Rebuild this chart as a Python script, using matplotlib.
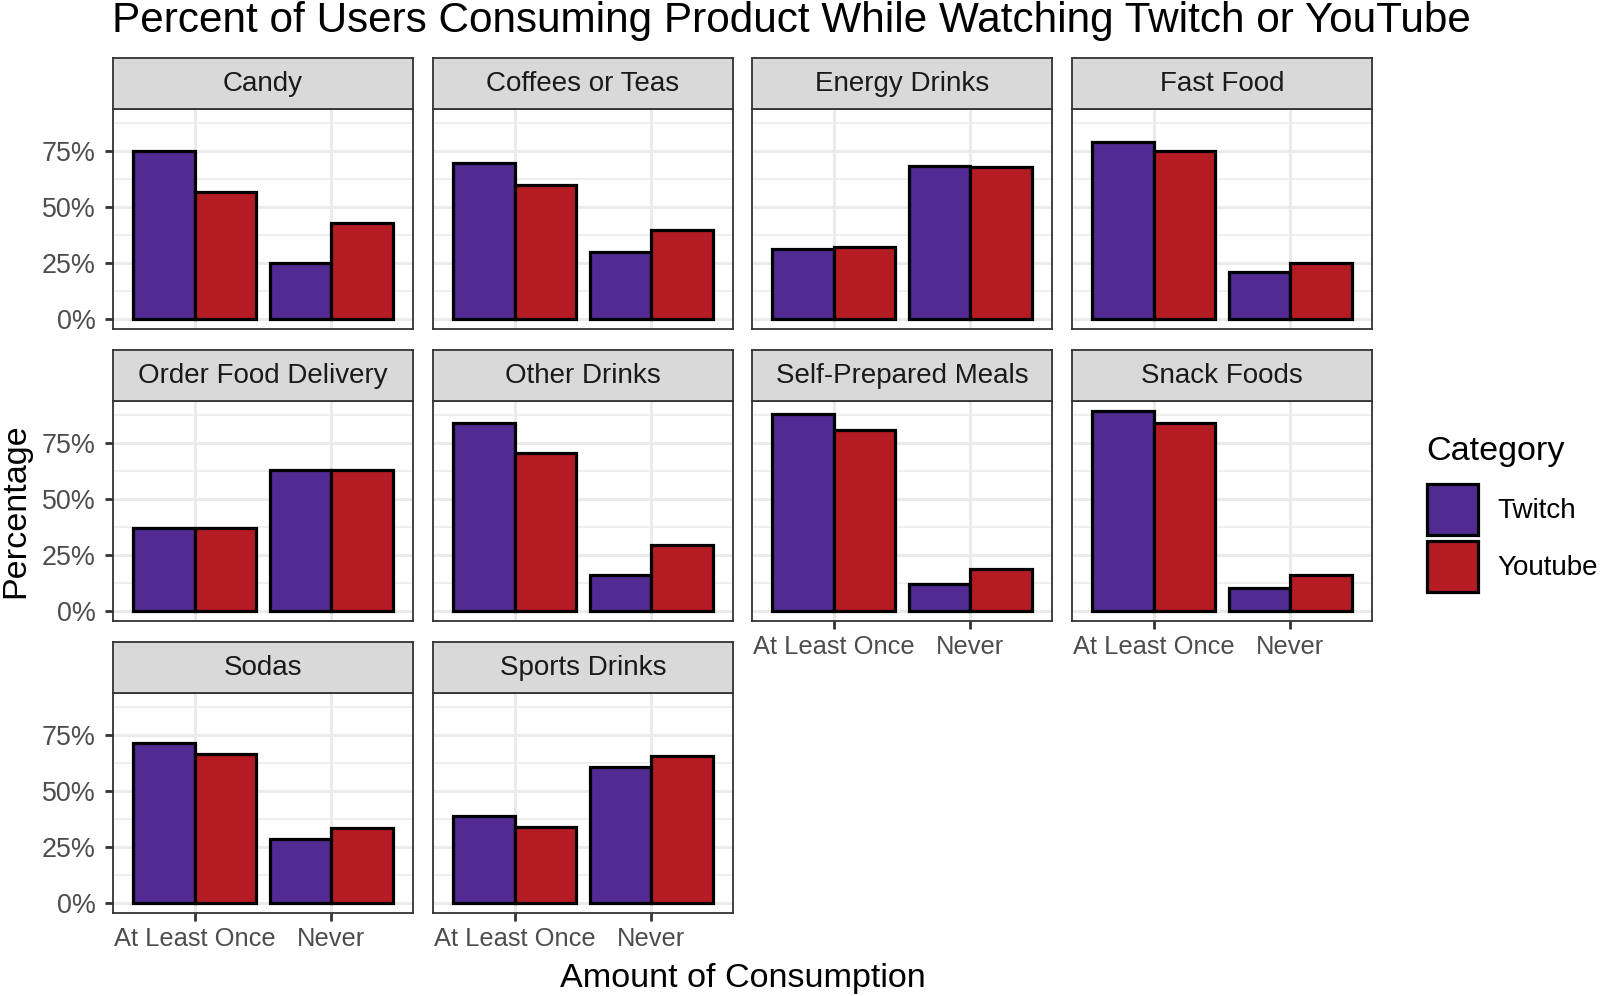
import matplotlib
matplotlib.use('Agg')
import matplotlib.pyplot as plt
from matplotlib.patches import Patch

plt.rcParams['font.family'] = ['Liberation Sans', 'DejaVu Sans']

# data (percent)
products = ['Candy', 'Coffees or Teas', 'Energy Drinks', 'Fast Food',
            'Order Food Delivery', 'Other Drinks', 'Self-Prepared Meals', 'Snack Foods',
            'Sodas', 'Sports Drinks']
amounts = ['At Least Once', 'Never']
categories = ['Twitch', 'Youtube']
twitch_once = [75, 70, 31.5, 79, 37, 84, 88, 89.5, 71.5, 39]
twitch_never = [25, 30, 68.5, 21, 63, 16, 12, 10.5, 28.5, 61]
youtube_once = [57, 60, 32, 75, 37, 70.5, 81, 84, 66.5, 34]
youtube_never = [43, 40, 68, 25, 63, 29.5, 19, 16, 33.5, 66]

colors = {'Twitch': '#512B92', 'Youtube': '#B51B23'}
W, H = 1600, 996

fig = plt.figure(figsize=(W / 100, H / 100), dpi=100)

col_left = [113, 433, 752, 1072]
row_top = [109, 401, 693]
pw, ph, sh = 300, 220, 51

ymax = max(twitch_once + twitch_never + youtube_once + youtube_never)
ylo, yhi = -0.05 * ymax, ymax * 1.05

def px_axes(x, y, w, h):
    return fig.add_axes([x / W, 1 - (y + h) / H, w / W, h / H])

for i, name in enumerate(products):
    r, c = divmod(i, 4)
    x0, y0 = col_left[c], row_top[r]
    ax = px_axes(x0, y0, pw, ph)
    vals = {'Twitch': [twitch_once[i], twitch_never[i]],
            'Youtube': [youtube_once[i], youtube_never[i]]}
    for k, cat in enumerate(categories):
        xs = [j + 1 + (k - 0.5) * 0.45 for j in range(len(amounts))]
        ax.bar(xs, vals[cat], width=0.45, color=colors[cat],
               edgecolor='black', linewidth=2.3, zorder=3)
    ax.set_xlim(0.4, 2.6)
    ax.set_ylim(ylo, yhi)
    ax.set_xticks([1, 2])
    ax.set_yticks([0, 25, 50, 75])
    ax.set_yticks([12.5, 37.5, 62.5, 87.5], minor=True)
    ax.grid(which='major', color='#EBEBEB', linewidth=2.2, zorder=0)
    ax.grid(which='minor', axis='y', color='#EBEBEB', linewidth=1.1, zorder=0)
    ax.set_axisbelow(True)
    ax.tick_params(which='minor', length=0)
    ax.tick_params(which='major', length=6, width=2, color='#333333',
                   labelcolor='#4D4D4D')
    ax.tick_params(axis='x', pad=4, labelsize=18.4)
    ax.tick_params(axis='y', pad=6.5, labelsize=19.4)
    for s in ax.spines.values():
        s.set_color('#333333')
        s.set_linewidth(1.3)
    # x labels only at the bottom panel of each column
    bottom = (r == 2) or (r == 1 and c >= 2)
    if bottom:
        ax.set_xticklabels(amounts)
    else:
        ax.set_xticklabels([])
        ax.tick_params(axis='x', length=0)
    if c == 0:
        ax.set_yticklabels(['0%', '25%', '50%', '75%'])
    else:
        ax.set_yticklabels([])
        ax.tick_params(axis='y', length=0)

    st = px_axes(x0, y0 - sh, pw, sh)
    st.set_facecolor('#D9D9D9')
    st.set_xticks([])
    st.set_yticks([])
    for s in st.spines.values():
        s.set_color('#333333')
        s.set_linewidth(1.3)
    st.text(0.5, 0.5, name, ha='center', va='center', fontsize=20,
            color='#1A1A1A', transform=st.transAxes)

fig.text(112 / W, 1 - 21 / H, 'Percent of Users Consuming Product While Watching Twitch or YouTube',
         ha='left', va='center', fontsize=30.4)
fig.text(743 / W, 1 - 978 / H, 'Amount of Consumption', ha='center', va='center', fontsize=24.6)
fig.text(16 / W, 1 - 511 / H, 'Percentage', ha='center', va='center', rotation=90, fontsize=24.6)

# legend: title as text, keys as a frameless legend
fig.text(1426 / W, 1 - 451 / H, 'Category', ha='left', va='center', fontsize=24.6)
handles = [Patch(facecolor=colors[c], edgecolor='black', linewidth=2.3) for c in categories]
fig.legend(handles, categories, loc='upper left',
           bbox_to_anchor=(1427 / W, 1 - 484 / H), frameon=False,
           fontsize=20, handlelength=1.85, handleheight=2.45,
           labelspacing=0.22, handletextpad=0.7, borderaxespad=0, borderpad=0)

plt.savefig('out.png', dpi=100)
